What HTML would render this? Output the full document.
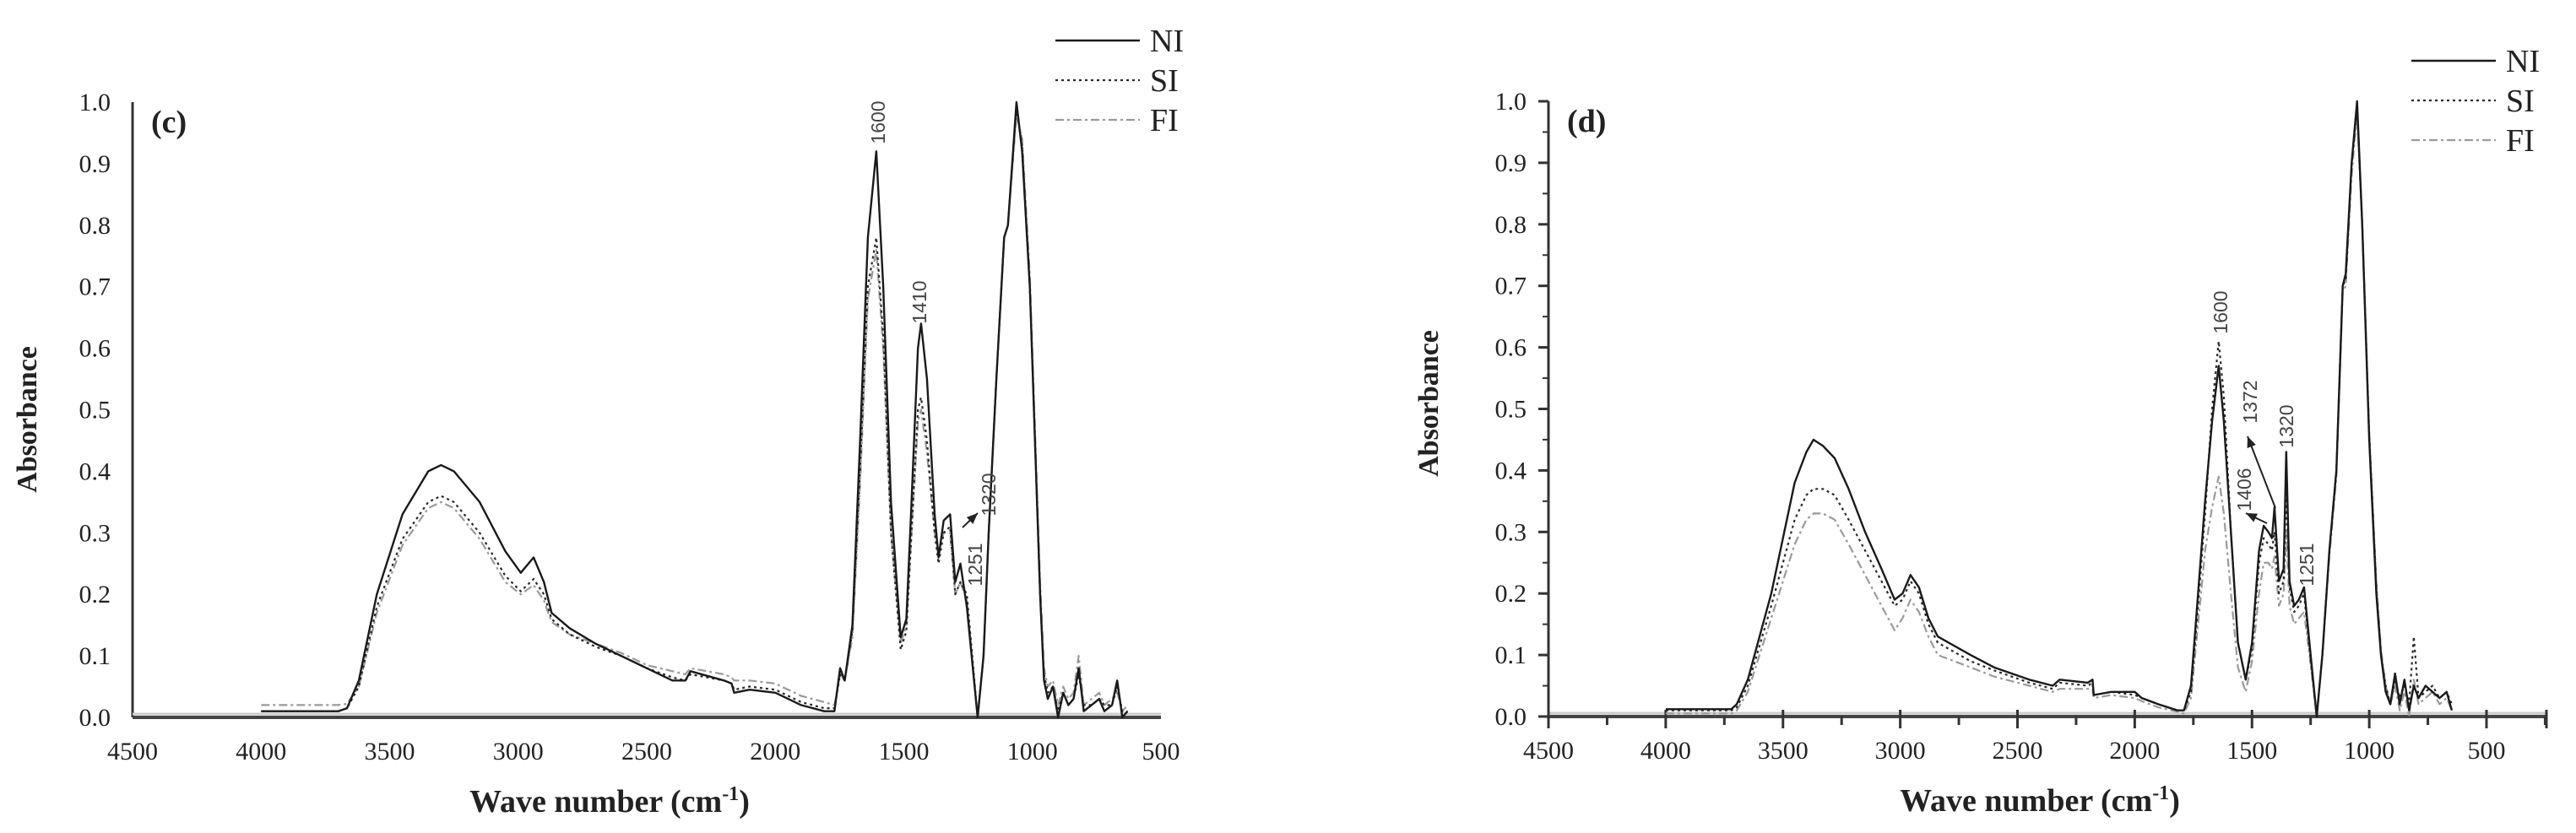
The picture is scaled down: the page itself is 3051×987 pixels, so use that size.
<!DOCTYPE html>
<html><head><meta charset="utf-8">
<style>
html,body{margin:0;padding:0;background:#fff;}
svg{display:block;}
text{font-family:"Liberation Serif",serif;}
.tick{font-size:30px;fill:#222;}
.ann{font-family:"Liberation Sans",sans-serif;font-size:23px;fill:#444;}
.leg{font-size:38px;fill:#222;}
.title{font-size:38px;font-weight:bold;fill:#222;}
</style></head>
<body>
<svg id="chart" width="3051" height="987" viewBox="0 0 3051 987" xmlns="http://www.w3.org/2000/svg">
</svg>
<script>
// ---- Data: panel (c) ----
const L_WN = [4000,3700,3666,3620,3550,3450,3350,3300,3250,3150,3050,2990,2940,2900,2870,2800,2700,2600,2500,2400,2350,2330,2200,2170,2160,2100,2000,1950,1900,1810,1770,1748,1730,1700,1670,1640,1607,1580,1550,1512,1490,1470,1445,1433,1410,1380,1365,1345,1320,1300,1280,1255,1213,1190,1170,1140,1110,1095,1062,1040,1010,990,970,955,940,920,900,880,860,840,820,800,770,740,720,690,670,650,630];
const L_NI = [.01,.01,.015,.06,.2,.33,.40,.41,.40,.35,.27,.235,.26,.22,.17,.145,.12,.10,.08,.06,.06,.075,.06,.055,.04,.045,.04,.03,.02,.01,.01,.08,.06,.15,.45,.78,.92,.7,.35,.13,.16,.35,.6,.64,.55,.33,.26,.32,.33,.22,.25,.18,.0,.1,.3,.55,.78,.8,1.0,.92,.7,.45,.2,.06,.03,.05,.0,.04,.02,.03,.08,.01,.02,.03,.01,.02,.06,.0,.01];
const L_SI = [.01,.01,.015,.05,.18,.29,.35,.36,.35,.30,.23,.205,.225,.2,.16,.135,.115,.10,.08,.065,.06,.07,.06,.055,.045,.05,.045,.035,.025,.015,.015,.07,.06,.14,.4,.7,.78,.62,.3,.11,.14,.3,.5,.52,.45,.3,.25,.3,.31,.2,.22,.2,.0,.1,.3,.55,.78,.8,.99,.93,.7,.45,.2,.07,.04,.05,.01,.04,.02,.03,.07,.02,.02,.03,.02,.02,.05,.01,.01];
const L_FI = [.02,.02,.022,.05,.17,.28,.34,.35,.34,.29,.22,.2,.215,.19,.155,.135,.12,.105,.085,.075,.07,.08,.07,.065,.06,.06,.055,.045,.035,.025,.02,.07,.06,.13,.38,.68,.76,.6,.3,.12,.15,.3,.48,.5,.43,.3,.27,.3,.3,.2,.22,.19,.0,.1,.3,.55,.78,.8,.98,.94,.72,.47,.22,.08,.05,.06,.02,.05,.03,.04,.1,.02,.03,.04,.02,.03,.04,.01,.02];
// ---- Data: panel (d) ----
const R_WN = [4000,3720,3697,3650,3550,3450,3400,3370,3330,3280,3220,3150,3080,3024,2990,2956,2920,2880,2840,2700,2600,2450,2350,2320,2200,2180,2175,2100,2000,1970,1900,1818,1790,1760,1730,1700,1670,1642,1620,1590,1560,1527,1500,1470,1450,1430,1415,1404,1385,1365,1354,1340,1320,1300,1278,1255,1224,1200,1170,1140,1113,1100,1075,1052,1030,1000,970,950,930,910,890,870,850,830,810,790,760,730,700,670,648];
const R_NI = [.012,.012,.02,.06,.2,.38,.43,.45,.44,.42,.37,.3,.24,.19,.2,.23,.21,.16,.13,.10,.08,.06,.05,.06,.055,.06,.035,.04,.04,.03,.02,.01,.01,.05,.2,.35,.48,.57,.48,.3,.12,.06,.12,.27,.31,.3,.29,.34,.22,.24,.43,.22,.18,.19,.21,.12,.0,.1,.27,.4,.7,.72,.9,1.0,.8,.45,.2,.1,.04,.02,.07,.02,.06,.01,.05,.03,.05,.04,.03,.04,.01];
const R_SI = [.01,.01,.015,.05,.18,.32,.36,.37,.37,.36,.32,.27,.22,.18,.19,.22,.2,.15,.12,.09,.075,.055,.045,.055,.05,.055,.035,.04,.035,.03,.02,.01,.01,.04,.18,.33,.5,.61,.52,.3,.12,.06,.11,.25,.29,.28,.27,.3,.2,.22,.37,.21,.17,.18,.2,.11,.0,.1,.27,.4,.7,.71,.9,.99,.8,.46,.21,.1,.05,.02,.06,.03,.05,.02,.13,.03,.04,.05,.03,.04,.02];
const R_FI = [.005,.005,.01,.04,.16,.28,.32,.33,.33,.32,.28,.23,.18,.14,.16,.19,.17,.13,.1,.08,.065,.05,.04,.045,.045,.045,.03,.035,.03,.025,.015,.008,.005,.03,.15,.27,.34,.39,.33,.2,.08,.04,.09,.2,.25,.25,.24,.26,.18,.2,.3,.18,.15,.16,.17,.1,.0,.1,.26,.39,.69,.7,.88,.98,.8,.46,.22,.11,.05,.02,.05,.01,.04,.0,.06,.02,.03,.04,.02,.03,.01];
const X_TICKS = [4500,4000,3500,3000,2500,2000,1500,1000,500];
const Y_TICKS = [0.0,0.1,0.2,0.3,0.4,0.5,0.6,0.7,0.8,0.9,1.0];

const NS = "http://www.w3.org/2000/svg";
const svg = document.getElementById('chart');
function mk(tag, attrs, parent){
  const e = document.createElementNS(NS, tag);
  for (const k in attrs) e.setAttribute(k, attrs[k]);
  (parent||svg).appendChild(e);
  return e;
}
const STY = {
  NI:{stroke:'#1a1a1a', dash:'', w:2.4},
  SI:{stroke:'#2a2a2a', dash:'3,4', w:2.2},
  FI:{stroke:'#9a9a9a', dash:'10,4,3,4', w:2.2}
};

function panel(cfg){
  const g = mk('g', {});
  
  
  const xs = w => cfg.x0 + (4500 - w) * cfg.k;
  const ys = v => cfg.yb - v * (cfg.yb - cfg.yt);
  const ya = mk('line', {x1:cfg.x0, y1:cfg.yt, x2:cfg.x0, y2:cfg.yb, stroke:'#333', 'stroke-width':3}, g);
  
  
  const gl = mk('line', {x1:cfg.x0, y1:cfg.yb-4, x2:cfg.xe, y2:cfg.yb-4, stroke:'#ccc', 'stroke-width':3}, g);
  
  
  const xa = mk('line', {x1:cfg.x0, y1:cfg.yb, x2:cfg.xe, y2:cfg.yb, stroke:'#444', 'stroke-width':4}, g);
  
  
  X_TICKS.forEach(t => {
    const tx = mk('text', {x:xs(t), y:cfg.yb+50, 'text-anchor':'middle', class:'tick'}, g);
    tx.textContent = String(t);
    
    
    if (cfg.ticks){
      const tl = mk('line', {x1:xs(t), y1:cfg.yb-8, x2:xs(t), y2:cfg.yb+14, stroke:'#333', 'stroke-width':3}, g);
      
      
      const mt = t - 250;
      if (xs(mt) <= cfg.xe){
        const ml = mk('line', {x1:xs(mt), y1:cfg.yb, x2:xs(mt), y2:cfg.yb+10, stroke:'#333', 'stroke-width':3}, g);
        
        
      }
    }
  });
  if (cfg.ticks){
    const ee = mk('line', {x1:cfg.xe, y1:cfg.yb-8, x2:cfg.xe, y2:cfg.yb+14, stroke:'#333', 'stroke-width':3}, g);
    
    
  }
  Y_TICKS.forEach(t => {
    const ty = mk('text', {x:cfg.x0-26, y:ys(t)+10, 'text-anchor':'end', class:'tick'}, g);
    ty.textContent = t.toFixed(1);
    
    
    if (cfg.ticks){
      const tl = mk('line', {x1:cfg.x0-12, y1:ys(t), x2:cfg.x0, y2:ys(t), stroke:'#333', 'stroke-width':3}, g);
      
      
      if (t < 1){
        const ml = mk('line', {x1:cfg.x0-7, y1:ys(t+0.05), x2:cfg.x0, y2:ys(t+0.05), stroke:'#333', 'stroke-width':2}, g);
        
        
      }
    }
  });
  [['FI',cfg.FI],['SI',cfg.SI],['NI',cfg.NI]].forEach(([nm, vals]) => {
    const d = cfg.WN.map((w,i) => (i?'L':'M') + xs(w).toFixed(1) + ',' + ys(vals[i]).toFixed(1)).join(' ');
    const s = STY[nm];
    const p = mk('path', {d:d, fill:'none', stroke:s.stroke, 'stroke-width':s.w, 'stroke-dasharray':s.dash, 'stroke-linejoin':'round'}, g);
    
    
  });
  [['NI',0],['SI',1],['FI',2]].forEach(([nm,i]) => {
    const ly = cfg.legY + i*47;
    const s = STY[nm];
    const ln = mk('line', {x1:cfg.legX, y1:ly, x2:cfg.legX+100, y2:ly, stroke:s.stroke, 'stroke-width':s.w, 'stroke-dasharray':s.dash}, g);
    
    
    const lt = mk('text', {x:cfg.legX+112, y:ly+13, class:'leg'}, g);
    lt.textContent = nm;
    
    
  });
  const pl = mk('text', {x:cfg.x0+22, y:cfg.yt+36, class:'title'}, g);
  pl.textContent = cfg.label;
  
  
  const xt = mk('text', {x:cfg.xtX, y:cfg.yb+112, 'text-anchor':'middle', class:'title'}, g);
  xt.innerHTML = 'Wave number (cm<tspan font-size="24" dy="-14">-1</tspan><tspan dy="14">)</tspan>';
  
  
  const yt = mk('text', {x:0, y:0, 'text-anchor':'middle', class:'title', transform:'translate(' + cfg.ytX + ',' + cfg.ytY + ') rotate(-90)'}, g);
  yt.setAttribute('style', 'font-size:34px');
  yt.textContent = 'Absorbance';
  
  
  cfg.ann.forEach(a => {
    const t = mk('text', {x:0, y:0, 'text-anchor':'middle', class:'ann', transform:'translate(' + a[1] + ',' + a[2] + ') rotate(-90)'}, g);
    t.textContent = a[0];
    t.setAttribute('dy', '8');
    
    
  });
  (cfg.arrows||[]).forEach(a => {
    const l = mk('line', {x1:a[0], y1:a[1], x2:a[2], y2:a[3], stroke:'#222', 'stroke-width':2}, g);
    
    
    const ang = Math.atan2(a[1]-a[3], a[0]-a[2]);
    const hx = a[0], hy = a[1];
    const p1 = [hx - 14*Math.cos(ang-0.4), hy - 14*Math.sin(ang-0.4)];
    const p2 = [hx - 14*Math.cos(ang+0.4), hy - 14*Math.sin(ang+0.4)];
    const h = mk('polygon', {points: hx+','+hy+' '+p1.join(',')+' '+p2.join(','), fill:'#222'}, g);
    
    
  });
}

panel({name:'panel-c', label:'(c)', x0:157, xe:1375, k:0.3045, yt:121, yb:850,
  WN:L_WN, NI:L_NI, SI:L_SI, FI:L_FI, ticks:false,
  legX:1250, legY:48, xtX:722, ytX:43, ytY:497,
  ann:[['1600',1040,145],['1410',1089,358],['1320',1171,586],['1251',1155,669]],
  arrows:[[1158,608,1140,625]]});
panel({name:'panel-d', label:'(d)', x0:1834, xe:3016, k:0.27775, yt:120, yb:849,
  WN:R_WN, NI:R_NI, SI:R_SI, FI:R_FI, ticks:true,
  legX:2856, legY:72, xtX:2416, ytX:1703, ytY:478,
  ann:[['1600',2630,370],['1372',2665,476],['1320',2708,505],['1406',2658,580],['1251',2732,669]],
  arrows:[[2662,517,2695,602],[2660,608,2685,620]]});
</script>
</body></html>
